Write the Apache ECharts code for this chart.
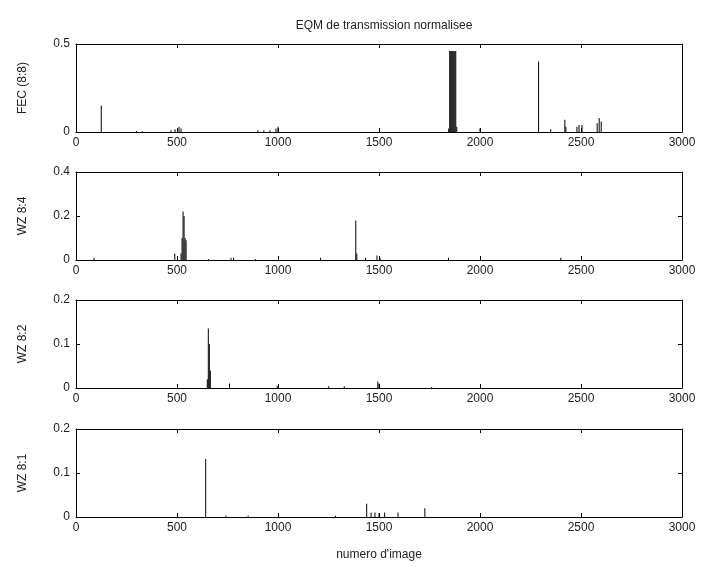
<!DOCTYPE html>
<html>
<head>
<meta charset="utf-8">
<script src="https://cdn.jsdelivr.net/npm/echarts@6/dist/echarts.min.js"></script>
<style>html,body{margin:0;padding:0;background:#fff}#c{width:703px;height:567px}</style>
</head>
<body>
<div id="c"></div>
<script>
// ---- data ----
const titleText = "EQM de transmission normalisee";
const xLabelText = "numero d'image";
const xTicks = [0, 500, 1000, 1500, 2000, 2500, 3000];
const panelNames = ["FEC (8:8)", "WZ 8:4", "WZ 8:2", "WZ 8:1"];
const panelYMax = [0.5, 0.4, 0.2, 0.2];
const panelYTicks = [[0, 0.5], [0, 0.2, 0.4], [0, 0.1, 0.2], [0, 0.1, 0.2]];

const fecFrames = [125, 300, 330, 470, 490, 510, 520, 900, 930, 960, 990, 1000, 1845, 1850, 1855, 1860, 1865, 1870, 1875, 1880, 1885, 2000, 2290, 2350, 2420, 2425, 2480, 2490, 2505, 2580, 2590, 2600];
const fecValues = [0.15, 0.006, 0.004, 0.01, 0.015, 0.03, 0.02, 0.01, 0.01, 0.01, 0.02, 0.03, 0.02, 0.46, 0.46, 0.46, 0.46, 0.46, 0.46, 0.46, 0.03, 0.02, 0.40, 0.015, 0.07, 0.03, 0.03, 0.04, 0.04, 0.05, 0.08, 0.06];

const wz4Frames = [89, 489, 520, 525, 530, 535, 540, 545, 655, 767, 780, 889, 1211, 1385, 1390, 1433, 1490, 1505, 1844, 2400];
const wz4Values = [0.01, 0.03, 0.03, 0.1, 0.22, 0.2, 0.1, 0.09, 0.005, 0.01, 0.01, 0.003, 0.01, 0.18, 0.03, 0.01, 0.02, 0.01, 0.01, 0.01];

const wz2Frames = [650, 655, 660, 665, 760, 996, 1251, 1328, 1494, 1500, 1761];
const wz2Values = [0.02, 0.135, 0.1, 0.04, 0.01, 0.005, 0.004, 0.004, 0.015, 0.01, 0.002];

const wz1Frames = [642, 742, 852, 1284, 1439, 1461, 1480, 1500, 1528, 1594, 1727];
const wz1Values = [0.132, 0.003, 0.003, 0.003, 0.03, 0.01, 0.01, 0.008, 0.01, 0.01, 0.02];

const panelFrames = [fecFrames, wz4Frames, wz2Frames, wz1Frames];
const panelValues = [fecValues, wz4Values, wz2Values, wz1Values];

// ---- layout ----
const gridTops = [44, 172, 300, 429];
const gridHeight = 88;
const FONT = "Liberation Sans";
const ink = "#000";
const plain = v => String(v);

const grids = [], xAxes = [], yAxes = [], series = [];
for (let i = 0; i < 4; i++) {
  grids.push({left: 76, right: 21, top: gridTops[i], height: gridHeight, show: false});
  const ticks = panelYTicks[i];
  const yInterval = ticks[1] - ticks[0];
  xAxes.push({
    type: 'value', gridIndex: i, min: xTicks[0], max: xTicks[xTicks.length - 1], interval: xTicks[1] - xTicks[0], position: 'bottom',
    axisLine: {show: true, onZero: false, lineStyle: {color: ink, width: 1}},
    axisTick: {show: true, inside: true, length: 4, lineStyle: {color: ink}},
    axisLabel: {show: true, margin: 5, color: '#222', fontSize: 12, fontFamily: FONT, formatter: plain},
    splitLine: {show: false},
    name: i === 3 ? xLabelText : '', nameLocation: 'middle', nameGap: 32,
    nameTextStyle: {color: '#222', fontSize: 12, fontFamily: FONT}
  });
  xAxes.push({
    type: 'value', gridIndex: i, min: xTicks[0], max: xTicks[xTicks.length - 1], interval: xTicks[1] - xTicks[0], position: 'top',
    axisLine: {show: true, onZero: false, lineStyle: {color: ink, width: 1}},
    axisTick: {show: true, inside: true, length: 4, lineStyle: {color: ink}},
    axisLabel: {show: false}, splitLine: {show: false}
  });
  yAxes.push({
    type: 'value', gridIndex: i, min: 0, max: panelYMax[i], interval: yInterval, position: 'left',
    axisLine: {show: true, onZero: false, lineStyle: {color: ink, width: 1}},
    axisTick: {show: true, inside: true, length: 4, lineStyle: {color: ink}},
    axisLabel: {show: true, margin: 6, color: '#222', fontSize: 12, fontFamily: FONT, formatter: plain},
    splitLine: {show: false},
    name: panelNames[i], nameLocation: 'middle', nameGap: 47, nameRotate: 90,
    nameTextStyle: {color: '#222', fontSize: 12, fontFamily: FONT}
  });
  yAxes.push({
    type: 'value', gridIndex: i, min: 0, max: panelYMax[i], interval: yInterval, position: 'right',
    axisLine: {show: true, onZero: false, lineStyle: {color: ink, width: 1}},
    axisTick: {show: true, inside: true, length: 4, lineStyle: {color: ink}},
    axisLabel: {show: false}, splitLine: {show: false}
  });
  series.push({
    type: 'bar', xAxisIndex: 2 * i, yAxisIndex: 2 * i, barWidth: 1, barGap: '-100%',
    silent: true, animation: false,
    itemStyle: {color: ink},
    data: panelFrames[i].map((f, k) => [f, panelValues[i][k]])
  });
}

const chart = echarts.init(document.getElementById('c'), null, {renderer: 'canvas'});
chart.setOption({
  animation: false,
  backgroundColor: '#fff',
  title: {text: titleText, left: 379, top: 15, textAlign: 'center',
    textStyle: {color: '#222', fontSize: 12, fontWeight: 'normal', fontFamily: FONT}},
  grid: grids, xAxis: xAxes, yAxis: yAxes, series: series
});
</script>
</body>
</html>
